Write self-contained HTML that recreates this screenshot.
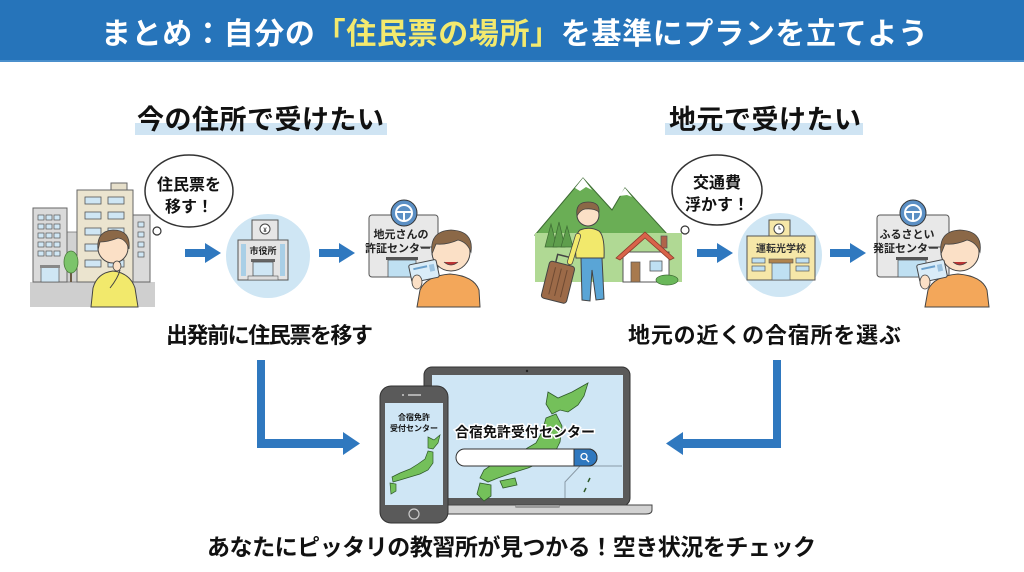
<!DOCTYPE html>
<html lang="ja">
<head>
<meta charset="utf-8">
<style>
  html,body{margin:0;padding:0;background:#fff;}
  body{width:1024px;height:572px;overflow:hidden;}
  svg{display:block;}
  text{font-family:"Liberation Sans","Noto Sans CJK JP",sans-serif;font-weight:bold;}
</style>
</head>
<body>
<svg width="1024" height="572" viewBox="0 0 1024 572" xmlns="http://www.w3.org/2000/svg">
  <!-- Header -->
  <rect x="0" y="0" width="1024" height="62" fill="#2674ba"/>
  <rect x="0" y="60" width="1024" height="2" fill="#4a8fcc"/>
  <text x="101" y="44" font-size="30" fill="#ffffff" textLength="827" lengthAdjust="spacing">まとめ：自分の<tspan fill="#f3e96e">「住民票の場所」</tspan>を基準にプランを立てよう</text>

  <!-- Subtitles -->
  <rect x="135" y="123" width="252" height="12" fill="#cfe4f3"/>
  <text x="137" y="129" font-size="27" fill="#111" textLength="247" lengthAdjust="spacing">今の住所で受けたい</text>
  <rect x="665" y="123" width="198" height="12" fill="#cfe4f3"/>
  <text x="669" y="129" font-size="27" fill="#111" textLength="192" lengthAdjust="spacing">地元で受けたい</text>

  <!-- ============ LEFT SCENE ============ -->
  <rect x="30" y="282" width="125" height="25" fill="#cfcfcf"/>
  <rect x="66" y="232" width="12" height="50" fill="#d2d2d2" stroke="#777" stroke-width="0.8"/>
  <rect x="33" y="208" width="34" height="74" fill="#dadada" stroke="#666" stroke-width="1"/>
  <g fill="#cfe6f4" stroke="#555" stroke-width="0.7">
    <rect x="38" y="215" width="6" height="5"/><rect x="46" y="215" width="6" height="5"/><rect x="54" y="215" width="6" height="5"/>
    <rect x="38" y="224" width="6" height="5"/><rect x="46" y="224" width="6" height="5"/><rect x="54" y="224" width="6" height="5"/>
    <rect x="38" y="233" width="6" height="5"/><rect x="46" y="233" width="6" height="5"/><rect x="54" y="233" width="6" height="5"/>
    <rect x="38" y="242" width="6" height="5"/><rect x="46" y="242" width="6" height="5"/><rect x="54" y="242" width="6" height="5"/>
    <rect x="38" y="251" width="6" height="5"/><rect x="46" y="251" width="6" height="5"/><rect x="54" y="251" width="6" height="5"/>
    <rect x="41" y="267" width="18" height="15"/>
  </g>
  <rect x="40" y="265" width="20" height="3" fill="#888"/>
  <rect x="111" y="183" width="16" height="8" fill="#e6dfca" stroke="#666" stroke-width="1"/>
  <rect x="77" y="190" width="56" height="92" fill="#ebe4cf" stroke="#666" stroke-width="1"/>
  <g fill="#cfe6f4" stroke="#555" stroke-width="0.8">
    <rect x="85" y="197" width="16" height="7"/><rect x="108" y="197" width="16" height="7"/>
    <rect x="85" y="212" width="16" height="7"/><rect x="108" y="212" width="16" height="7"/>
    <rect x="85" y="228" width="16" height="7"/><rect x="108" y="228" width="16" height="7"/>
    <rect x="85" y="244" width="16" height="7"/><rect x="108" y="244" width="16" height="7"/>
    <rect x="85" y="260" width="16" height="7"/><rect x="108" y="260" width="16" height="7"/>
  </g>
  <rect x="133" y="215" width="17" height="67" fill="#dadada" stroke="#666" stroke-width="1"/>
  <g fill="#cfe6f4" stroke="#555" stroke-width="0.7">
    <rect x="138" y="222" width="6" height="5"/><rect x="138" y="232" width="6" height="5"/>
    <rect x="138" y="242" width="6" height="5"/><rect x="138" y="252" width="6" height="5"/>
  </g>
  <line x1="71" y1="262" x2="71" y2="282" stroke="#6b5a44" stroke-width="2"/>
  <ellipse cx="71" cy="262" rx="7" ry="11" fill="#7cc46a" stroke="#4a7a3a" stroke-width="0.8"/>
  <path d="M91,307 L93,288 Q97,273 113,271 Q130,273 135,288 L138,307 Z" fill="#f2e96c" stroke="#444" stroke-width="1"/>
  <circle cx="113" cy="248" r="15" fill="#fbe0c6" stroke="#444" stroke-width="1"/>
  <path d="M98,250 Q96,231 113,230 Q131,230 129,249 Q126,239 118,238 Q108,242 100,242 Z" fill="#8b6847" stroke="#444" stroke-width="0.8"/>
  <ellipse cx="117" cy="266" rx="4" ry="5" fill="#fbe0c6" stroke="#444" stroke-width="0.8"/>
  <path d="M110,288 Q118,278 120,270" fill="none" stroke="#444" stroke-width="1"/>
  <circle cx="157" cy="231" r="4" fill="#fff" stroke="#333" stroke-width="1.2"/>
  <ellipse cx="189" cy="191" rx="44" ry="36" fill="#fff" stroke="#333" stroke-width="1.5"/>
  <text x="189" y="190" font-size="16" fill="#111" text-anchor="middle">住民票を</text>
  <text x="189" y="212" font-size="16" fill="#111" text-anchor="middle">移す！</text>

  <rect x="185" y="249" width="22" height="8" fill="#2f78bf"/>
  <polygon points="205,243 221,253 205,263" fill="#2f78bf"/>

  <circle cx="268" cy="256" r="42" fill="#cfe6f4"/>
  <rect x="252" y="220" width="26" height="21" fill="#e6e6e6" stroke="#555" stroke-width="1"/>
  <circle cx="265" cy="229" r="5" fill="#fff" stroke="#444" stroke-width="1"/>
  <text x="265" y="232" font-size="6" fill="#333" text-anchor="middle">¥</text>
  <rect x="238" y="240" width="50" height="40" fill="#e4e4e4" stroke="#555" stroke-width="1"/>
  <rect x="241" y="244" width="5" height="32" fill="#a9cfe6"/>
  <rect x="280" y="244" width="5" height="32" fill="#a9cfe6"/>
  <text x="263" y="254" font-size="9" fill="#222" text-anchor="middle">市役所</text>
  <rect x="251" y="259" width="24" height="3" fill="#666"/>
  <rect x="253" y="262" width="20" height="14" fill="#cfe6f4" stroke="#555" stroke-width="0.8"/>
  <rect x="248" y="276" width="30" height="4" fill="#ddd" stroke="#555" stroke-width="0.6"/>

  <rect x="319" y="249" width="22" height="8" fill="#2f78bf"/>
  <polygon points="339,243 355,253 339,263" fill="#2f78bf"/>

  <rect x="369" y="215" width="69" height="62" rx="3" fill="#e8e8e8" stroke="#555" stroke-width="1"/>
  <circle cx="404" cy="213" r="13" fill="#5b8fc4" stroke="#333" stroke-width="1"/>
  <circle cx="404" cy="213" r="8" fill="none" stroke="#fff" stroke-width="2"/>
  <path d="M396,212 L412,212 M404,213 L404,220" stroke="#fff" stroke-width="2"/>
  <text x="401" y="238" font-size="11" fill="#222" text-anchor="middle" font-weight="normal">地元さんの</text>
  <text x="398" y="252" font-size="11" fill="#222" text-anchor="middle" font-weight="normal">許証センター</text>
  <line x1="420" y1="247" x2="434" y2="247" stroke="#555" stroke-width="1"/>
  <rect x="386" y="257" width="32" height="3" fill="#555"/>
  <rect x="388" y="260" width="28" height="17" fill="#bfe0f2" stroke="#555" stroke-width="0.8"/>
  <path d="M417,307 L420,290 Q426,276 450,274 Q474,276 479,290 L480,307 Z" fill="#f3a75a" stroke="#444" stroke-width="1"/>
  <circle cx="451" cy="252" r="19" fill="#fbe0c6" stroke="#444" stroke-width="1"/>
  <path d="M432,254 Q429,231 451,230 Q474,231 471,252 Q467,242 458,240 Q447,245 436,244 Z" fill="#8b6847" stroke="#444" stroke-width="0.8"/>
  <path d="M444,262 Q451,268 458,262" fill="#b33" stroke="#444" stroke-width="0.8"/>
  <g transform="rotate(-12 424 271)">
    <rect x="410" y="262" width="28" height="18" rx="2" fill="#d9ecf8" stroke="#444" stroke-width="1"/>
    <rect x="414" y="266" width="14" height="2" fill="#6aa0cc"/>
    <rect x="430" y="266" width="5" height="7" fill="#9cc3e0"/>
  </g>
  <ellipse cx="417" cy="282" rx="5" ry="7" fill="#fbe0c6" stroke="#444" stroke-width="0.8"/>

  <text x="166" y="343" font-size="22" fill="#111" textLength="207" lengthAdjust="spacing">出発前に住民票を移す</text>

  <!-- ============ RIGHT SCENE ============ -->
  <polygon points="535,235 583,178 612,210 625,188 668,235" fill="#6aae55" stroke="#3d6b33" stroke-width="1"/>
  <polygon points="575,188 583,178 592,190 586,187 580,191" fill="#fff"/>
  <polygon points="619,196 625,188 632,197 627,195" fill="#fff"/>
  <rect x="535" y="233" width="147" height="49" fill="#b0d994"/>
  <g fill="#5e9e4c" stroke="#3d6b33" stroke-width="0.7">
    <polygon points="545,247 551,224 557,247"/>
    <polygon points="553,247 559,222 565,247"/>
    <polygon points="561,247 567,226 573,247"/>
  </g>
  <rect x="661" y="236" width="6" height="12" fill="#b0644a" stroke="#555" stroke-width="0.7"/>
  <rect x="623" y="252" width="46" height="30" fill="#fff" stroke="#555" stroke-width="1"/>
  <polygon points="616,258 645,232 674,258 670,260 645,238 620,260" fill="#d9634a" stroke="#8b3a2a" stroke-width="0.8"/>
  <rect x="631" y="262" width="9" height="20" fill="#a87a4e" stroke="#555" stroke-width="0.7"/>
  <rect x="650" y="261" width="12" height="10" fill="#bfe0f2" stroke="#555" stroke-width="0.8"/>
  <ellipse cx="667" cy="280" rx="11" ry="5" fill="#6ab85a" stroke="#3d6b33" stroke-width="0.7"/>
  <g transform="rotate(14 557 282)">
    <rect x="545" y="263" width="26" height="38" rx="3" fill="#9c6a48" stroke="#444" stroke-width="1"/>
    <path d="M551,263 V255 H565 V263" fill="none" stroke="#444" stroke-width="1.5"/>
    <path d="M552,268 V296 M558,268 V296 M564,268 V296" stroke="#6e4a32" stroke-width="1"/>
  </g>
  <path d="M581,258 L582,300 L590,301 L592,270 L596,300 L604,299 L602,258 Z" fill="#5aa5d6" stroke="#444" stroke-width="1"/>
  <path d="M576,258 Q574,235 580,230 Q590,226 599,231 Q605,236 604,258 Z" fill="#f2e96c" stroke="#444" stroke-width="1"/>
  <path d="M578,236 L570,262" stroke="#444" stroke-width="6" stroke-linecap="round"/>
  <path d="M578,236 L570,262" stroke="#f2e96c" stroke-width="4.5" stroke-linecap="round"/>
  <circle cx="588" cy="215" r="11" fill="#fbe0c6" stroke="#444" stroke-width="1"/>
  <path d="M577,216 Q575,202 588,202 Q600,202 599,212 Q594,208 585,209 Q580,210 577,216 Z" fill="#8b6847" stroke="#444" stroke-width="0.8"/>
  <circle cx="685" cy="230" r="4" fill="#fff" stroke="#333" stroke-width="1.2"/>
  <ellipse cx="717" cy="190" rx="45" ry="35" fill="#fff" stroke="#333" stroke-width="1.5"/>
  <text x="717" y="188" font-size="16" fill="#111" text-anchor="middle">交通費</text>
  <text x="717" y="210" font-size="16" fill="#111" text-anchor="middle">浮かす！</text>

  <rect x="697" y="249" width="22" height="8" fill="#2f78bf"/>
  <polygon points="717,243 733,253 717,263" fill="#2f78bf"/>

  <circle cx="780" cy="255" r="42" fill="#cfe6f4"/>
  <rect x="769" y="220" width="21" height="17" fill="#f6e7a8" stroke="#555" stroke-width="1"/>
  <circle cx="779" cy="229" r="5" fill="#fff" stroke="#444" stroke-width="1"/>
  <path d="M779,226 V229 H781" fill="none" stroke="#333" stroke-width="0.8"/>
  <rect x="747" y="236" width="68" height="44" fill="#f6e7a8" stroke="#555" stroke-width="1"/>
  <text x="781" y="252" font-size="10" fill="#333" text-anchor="middle">運転光学校</text>
  <g fill="#bfe0f2" stroke="#555" stroke-width="0.7">
    <rect x="752" y="258" width="13" height="5"/><rect x="752" y="266" width="13" height="5"/>
    <rect x="796" y="258" width="13" height="5"/><rect x="796" y="266" width="13" height="5"/>
    <rect x="772" y="263" width="18" height="17"/>
  </g>
  <rect x="769" y="259" width="24" height="4" fill="#b0844e" stroke="#555" stroke-width="0.6"/>

  <rect x="830" y="249" width="22" height="8" fill="#2f78bf"/>
  <polygon points="850,243 866,253 850,263" fill="#2f78bf"/>

  <rect x="877" y="215" width="72" height="62" rx="3" fill="#e8e8e8" stroke="#555" stroke-width="1"/>
  <circle cx="913" cy="213" r="13" fill="#5b8fc4" stroke="#333" stroke-width="1"/>
  <circle cx="913" cy="213" r="8" fill="none" stroke="#fff" stroke-width="2"/>
  <path d="M905,212 L921,212 M913,213 L913,220" stroke="#fff" stroke-width="2"/>
  <text x="907" y="238" font-size="11" fill="#222" text-anchor="middle" font-weight="normal">ふるさとい</text>
  <text x="906" y="252" font-size="11" fill="#222" text-anchor="middle" font-weight="normal">発証センター</text>
  <line x1="928" y1="247" x2="944" y2="247" stroke="#555" stroke-width="1"/>
  <rect x="896" y="257" width="32" height="3" fill="#555"/>
  <rect x="898" y="260" width="28" height="17" fill="#bfe0f2" stroke="#555" stroke-width="0.8"/>
  <path d="M925,307 L928,290 Q934,276 958,274 Q982,276 987,290 L989,307 Z" fill="#f3a75a" stroke="#444" stroke-width="1"/>
  <circle cx="960" cy="252" r="19" fill="#fbe0c6" stroke="#444" stroke-width="1"/>
  <path d="M941,254 Q938,231 960,230 Q983,231 980,252 Q976,242 967,240 Q956,245 945,244 Z" fill="#8b6847" stroke="#444" stroke-width="0.8"/>
  <path d="M953,262 Q960,268 967,262" fill="#b33" stroke="#444" stroke-width="0.8"/>
  <g transform="rotate(-12 932 271)">
    <rect x="918" y="262" width="28" height="18" rx="2" fill="#d9ecf8" stroke="#444" stroke-width="1"/>
    <rect x="922" y="266" width="14" height="2" fill="#6aa0cc"/>
    <rect x="938" y="266" width="5" height="7" fill="#9cc3e0"/>
  </g>
  <ellipse cx="925" cy="282" rx="5" ry="7" fill="#fbe0c6" stroke="#444" stroke-width="0.8"/>

  <text x="628" y="343" font-size="22" fill="#111" textLength="273" lengthAdjust="spacing">地元の近くの合宿所を選ぶ</text>

  <!-- ============ CONNECTORS ============ -->
  <rect x="257" y="360" width="8" height="88" fill="#2f78bf"/>
  <rect x="257" y="439" width="88" height="9" fill="#2f78bf"/>
  <polygon points="343,432 360,443.5 343,455" fill="#2f78bf"/>
  <rect x="773" y="360" width="8" height="88" fill="#2f78bf"/>
  <rect x="681" y="439" width="100" height="9" fill="#2f78bf"/>
  <polygon points="683,432 666,443.5 683,455" fill="#2f78bf"/>

  <!-- ============ DEVICES ============ -->
  <rect x="424" y="367" width="206" height="139" rx="8" fill="#5a5a5a" stroke="#333" stroke-width="1"/>
  <rect x="432" y="375" width="191" height="123" fill="#cfe6f5"/>
  <circle cx="527" cy="371" r="1.2" fill="#222"/>
  <g fill="#74c05a" stroke="#2f5a2a" stroke-width="0.8">
    <polygon points="548,392 558,398 572,392 588,383 584,396 578,405 568,412 560,410 552,414 546,404"/>
    <polygon points="546,418 556,414 562,426 560,442 554,454 542,462 528,468 512,473 498,478 488,482 480,478 484,470 496,462 510,456 524,450 536,443 542,432"/>
    <polygon points="500,481 515,478 517,485 503,488"/>
    <polygon points="480,483 491,485 491,496 484,501 477,494"/>
  </g>
  <path d="M565,498 V482 L580,466 H622" fill="none" stroke="#8a9aa6" stroke-width="1"/>
  <path d="M590,478 l-2,4 M586,488 l-2,4" stroke="#2f5a2a" stroke-width="1.5"/>
  <text x="455" y="437" font-size="14" fill="#111" stroke="#fff" stroke-width="3" paint-order="stroke" textLength="140" lengthAdjust="spacing">合宿免許受付センター</text>
  <rect x="456" y="449" width="141" height="17" rx="8.5" fill="#fff" stroke="#333" stroke-width="1"/>
  <path d="M574,449 H588.5 A8.5,8.5 0 0 1 588.5,466 H574 Z" fill="#2f78bf" stroke="#333" stroke-width="1"/>
  <circle cx="584" cy="456.5" r="3" fill="none" stroke="#fff" stroke-width="1.3"/>
  <line x1="586" y1="459" x2="589" y2="462" stroke="#fff" stroke-width="1.3"/>
  <path d="M405,505 H652 V510 Q652,514 646,514 H411 Q405,514 405,510 Z" fill="#d2d2d2" stroke="#444" stroke-width="1"/>
  <rect x="515" y="505" width="45" height="3" rx="1.5" fill="#9a9a9a"/>

  <rect x="380" y="386" width="68" height="137" rx="11" fill="#5a5a5a" stroke="#333" stroke-width="1"/>
  <rect x="385" y="403" width="58" height="102" fill="#cfe6f5"/>
  <line x1="408" y1="395" x2="421" y2="395" stroke="#ccc" stroke-width="1.5"/>
  <circle cx="403" cy="395" r="1" fill="#ccc"/>
  <circle cx="414" cy="514" r="5" fill="none" stroke="#ccc" stroke-width="1.2"/>
  <text x="414" y="420" font-size="8" fill="#111" text-anchor="middle">合宿免許</text>
  <text x="414" y="431" font-size="8" fill="#111" text-anchor="middle">受付センター</text>
  <g fill="#74c05a" stroke="#2f5a2a" stroke-width="0.7">
    <polygon points="428,437 434,440 440,435 438,443 433,449 428,448"/>
    <polygon points="428,451 433,452 433,463 428,470 420,474 410,477 400,480 393,482 392,477 400,473 410,469 418,464 425,459"/>
    <polygon points="390,483 396,484 396,491 391,494"/>
  </g>

  <text x="207" y="555" font-size="23" fill="#111" textLength="609" lengthAdjust="spacing">あなたにピッタリの教習所が見つかる！空き状況をチェック</text>
</svg>
</body>
</html>
